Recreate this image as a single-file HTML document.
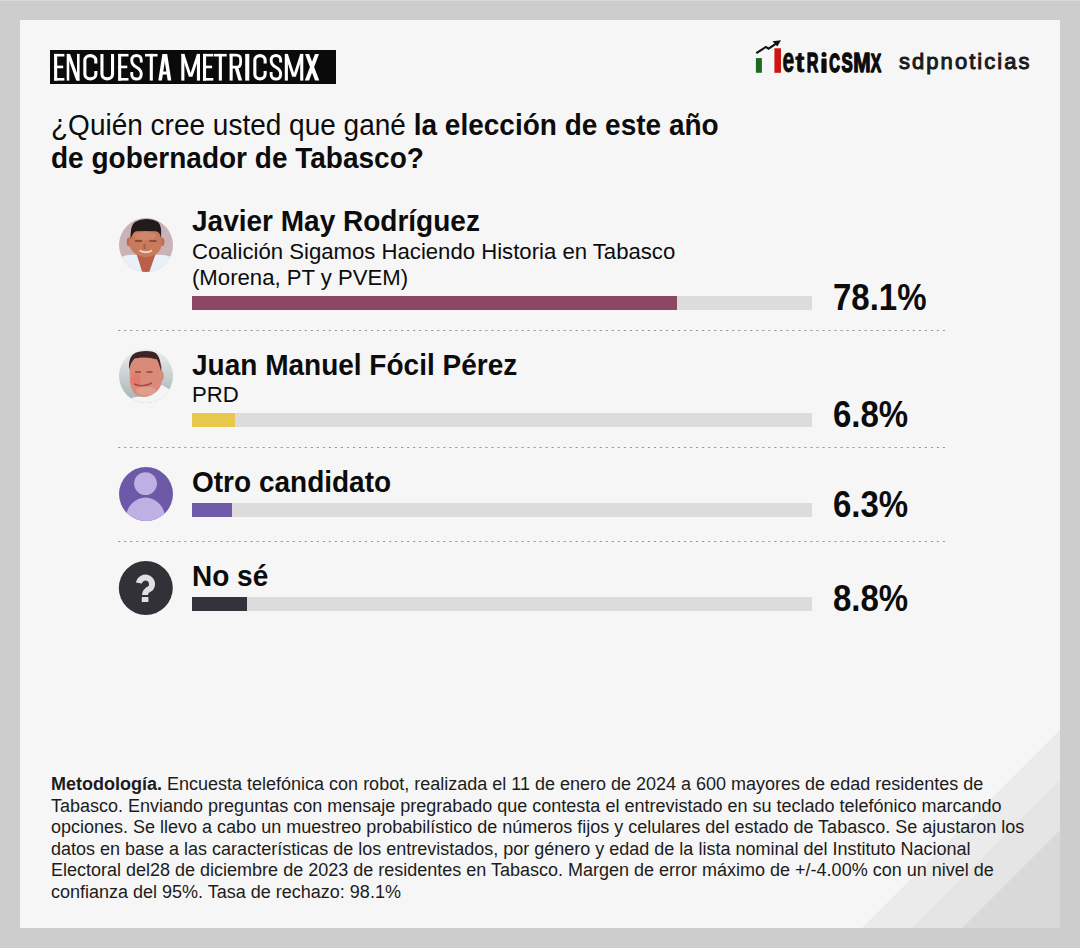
<!DOCTYPE html>
<html><head><meta charset="utf-8">
<style>
*{margin:0;padding:0;box-sizing:border-box}
html,body{width:1080px;height:948px;overflow:hidden;background:#cdcdcd;font-family:"Liberation Sans",sans-serif;color:#0c0c0c}
#card{position:absolute;left:20px;top:20px;width:1040px;height:908px;background:#f6f6f6;overflow:hidden}
.abs{position:absolute;white-space:nowrap}
#tag{position:absolute;left:30px;top:30px;width:286px;height:34px;background:#0a0a0a}
.q{position:absolute;left:31px;font-size:28px;line-height:28px;white-space:nowrap;transform-origin:0 23.7px;transform:scaleY(1.04)}
.name{font-weight:bold;font-size:28px;line-height:28px;transform-origin:0 23.7px;transform:scaleY(1.05)}
.sub{font-size:22.15px;line-height:22px}
.track{position:absolute;left:172px;width:620px;height:14px;background:#dcdcdc}
.fill{position:absolute;left:0;top:0;height:14px}
.pct{position:absolute;left:813px;font-weight:bold;font-size:33px;line-height:33px;white-space:nowrap;transform-origin:0 28px;transform:scaleY(1.13)}
#meth{position:absolute;left:31px;top:754px;font-size:18px;line-height:21.6px;color:#1c1c1c;white-space:nowrap}
#sdp{position:absolute;left:879px;top:31px;font-size:22px;line-height:22px;font-weight:normal;-webkit-text-stroke:1px #1a1a1a;letter-spacing:2.05px;color:#1a1a1a;white-space:nowrap}
#stripes{position:absolute;left:0;top:0}
</style></head><body>
<div style="position:absolute;left:0;top:0;width:1080px;height:1px;background:#d9d9d9"></div>
<div id="card">
  <svg id="stripes" width="1040" height="908" viewBox="0 0 1040 908">
    <polygon points="1040,710 1040,908 842,908" fill="#ebebeb"/>
    <polygon points="1040,760 1040,908 892,908" fill="#e5e5e5"/>
    <polygon points="1040,810 1040,908 942,908" fill="#d9d9d9"/>
  </svg>

  <div id="tag"></div>
  <svg class="abs" style="left:-20px;top:-20px" width="400" height="120" viewBox="0 0 400 120"><g fill="#fff" stroke="#fff" stroke-width="0"><g transform="translate(54.1,53.9)"><rect x="0" y="0" width="3.1" height="26.7"/><rect x="0" y="0" width="10.300000000000004" height="2.6"/><rect x="0" y="11.75" width="9.10" height="2.6"/><rect x="0" y="24.10" width="10.300000000000004" height="2.6"/></g>
<g transform="translate(66.7,53.9)"><rect x="0" y="0" width="2.6" height="26.7"/><rect x="10.30" y="0" width="2.6" height="26.7"/><polygon points="0,0 3.40,0 12.899999999999991,26.7 9.50,26.7"/></g>
<g transform="translate(83.3,53.9)"><path d="M12.55 9.5 V6.3 A5.50 4.6 0 0 0 1.55 6.3 V20.4 A5.50 4.6 0 0 0 12.55 20.4 V17" fill="none" stroke-width="3.1"/></g>
<g transform="translate(100.4,53.9)"><path d="M1.55 0 V20.4 A5.30 4.6 0 0 0 12.15 20.4 V0" fill="none" stroke-width="3.1"/></g>
<g transform="translate(118.1,53.9)"><rect x="0" y="0" width="3.1" height="26.7"/><rect x="0" y="0" width="10.400000000000006" height="2.6"/><rect x="0" y="11.75" width="9.20" height="2.6"/><rect x="0" y="24.10" width="10.400000000000006" height="2.6"/></g>
<g transform="translate(130.2,53.9)"><path d="M11.05 8.5 V6.2 C11.05 3 9.10 1.55 6.30 1.55 C3.5 1.55 1.55 3 1.55 6.5 C1.55 10.5 3.5 11.8 6.30 13.3 C9.10 14.8 11.05 16.3 11.05 20 C11.05 23.7 9.10 25.15 6.30 25.15 C3.5 25.15 1.55 23.7 1.55 20.5 V18" fill="none" stroke-width="2.9"/></g>
<g transform="translate(145.0,53.9)"><rect x="0" y="0" width="12.599999999999994" height="2.6"/><rect x="4.75" y="0" width="3.1" height="26.7"/></g>
<g transform="translate(158.3,53.9)"><polygon points="0,26.7 4.10,0 7.70,0 3.6,26.7"/><polygon points="5.30,0 8.90,0 13.0,26.7 9.40,26.7"/><rect x="2.5" y="17.62" width="8.00" height="3"/></g>
<g transform="translate(181.3,53.9)"><rect x="0" y="0" width="3.1" height="26.7"/><rect x="15.60" y="0" width="3.1" height="26.7"/><polygon points="0,0 3.10,0 9.35,19.22 15.60,0 18.69999999999999,0 11.15,22.96 7.55,22.96"/></g>
<g transform="translate(203.0,53.9)"><rect x="0" y="0" width="3.1" height="26.7"/><rect x="0" y="0" width="10.300000000000011" height="2.6"/><rect x="0" y="11.75" width="9.10" height="2.6"/><rect x="0" y="24.10" width="10.300000000000011" height="2.6"/></g>
<g transform="translate(214.0,53.9)"><rect x="0" y="0" width="12.699999999999989" height="2.6"/><rect x="4.80" y="0" width="3.1" height="26.7"/></g>
<g transform="translate(229.6,53.9)"><rect x="0" y="0" width="3.1" height="26.7"/><path d="M0 1.3 H6.60 Q11.05 1.3 11.05 6 V8.5 Q11.05 13.3 6.60 13.3 H1" fill="none" stroke-width="2.8000000000000003"/><polygon points="4.80,13 8.50,13 12.599999999999994,26.7 8.80,26.7"/></g>
<g transform="translate(245.2,53.9)"><rect x="0" y="0" width="4.100000000000023" height="26.7"/></g>
<g transform="translate(253.3,53.9)"><path d="M11.85 9.5 V6.3 A5.15 4.6 0 0 0 1.55 6.3 V20.4 A5.15 4.6 0 0 0 11.85 20.4 V17" fill="none" stroke-width="3.1"/></g>
<g transform="translate(269.6,53.9)"><path d="M11.05 8.5 V6.2 C11.05 3 9.10 1.55 6.30 1.55 C3.5 1.55 1.55 3 1.55 6.5 C1.55 10.5 3.5 11.8 6.30 13.3 C9.10 14.8 11.05 16.3 11.05 20 C11.05 23.7 9.10 25.15 6.30 25.15 C3.5 25.15 1.55 23.7 1.55 20.5 V18" fill="none" stroke-width="2.9"/></g>
<g transform="translate(284.8,53.9)"><rect x="0" y="0" width="3.1" height="26.7"/><rect x="15.40" y="0" width="3.1" height="26.7"/><polygon points="0,0 3.10,0 9.25,19.22 15.40,0 18.5,0 11.05,22.96 7.45,22.96"/></g>
<g transform="translate(304.8,53.9)"><polygon points="0.3,0 4.3,0 14.5,26.7 10.20,26.7"/><polygon points="10.20,0 14.20,0 4.3,26.7 0,26.7"/></g></g>
</svg>

  <!-- metricsmx logo -->
  <svg class="abs" style="left:730px;top:15px" width="170" height="45" viewBox="750 35 170 45">
    <rect x="755.9" y="58.1" width="6" height="14.7" fill="#1b6b22"/>
    <rect x="774.4" y="48.3" width="6.6" height="24.5" fill="#d01414"/>
    <polyline points="756.3,53.1 765.9,46.9 768.5,48.7 776.5,43.3" fill="none" stroke="#111" stroke-width="2.1"/>
    <polygon points="781,40.2 772.5,41.2 777.3,46.5" fill="#111"/>
    <g font-family="Liberation Sans" font-weight="bold" font-size="100" fill="#0c0c0c" stroke="#0c0c0c" stroke-linejoin="round">
<text stroke-width="2.5" transform="translate(782.44,72.32) scale(0.2107,0.3491)">e</text>
<text stroke-width="3" transform="translate(795.57,72.34) scale(0.2629,0.2764)">t</text>
<text stroke-width="5" transform="translate(806.72,72.31) scale(0.1621,0.2778)">R</text>
<text stroke-width="7" transform="translate(829.21,72.31) scale(0.1478,0.2661)">C</text>
<text stroke-width="6" transform="translate(841.52,72.43) scale(0.1684,0.2695)">S</text>
<text stroke-width="5" transform="translate(853.13,72.43) scale(0.2082,0.2683)">M</text>
<text stroke-width="6" transform="translate(870.73,72.21) scale(0.1565,0.2634)">X</text>
<rect x="821.4" y="58.6" width="5.2" height="14.4" rx="1" stroke="none"/><circle cx="824" cy="54.5" r="2.5" stroke="none"/>
</g>
  </svg>
  <div id="sdp">sdpnoticias</div>

  <div class="q" style="top:91.7px">¿Quién cree usted que gané <b>la elección de este año</b></div>
  <div class="q" style="top:124.7px"><b>de gobernador de Tabasco?</b></div>

  <!-- avatars -->
  <svg class="abs" style="left:98px;top:197px" width="56" height="56" viewBox="0 0 56 56">
    <defs><clipPath id="c1"><circle cx="28" cy="28" r="27"/></clipPath></defs>
    <circle cx="28" cy="28" r="27" fill="#c9b3b8"/>
    <g clip-path="url(#c1)">
      <path d="M-2 58 V42 Q8 37 19 38 L28 56 L37.5 38 Q48 37 58 42 V58 Z" fill="#e9f1f8"/>
      <path d="M18.6 37 L37.5 37 L31 56 L24.5 56 Z" fill="#b95f47"/>
      <ellipse cx="11" cy="25" rx="2.4" ry="4.2" fill="#bf6e52"/>
      <ellipse cx="44" cy="25" rx="2.4" ry="4.2" fill="#bf6e52"/>
      <path d="M11.5 22 Q11.5 12 27.5 12 Q43.5 12 43.5 22 L43.5 28 Q42.5 38.5 28 40.5 Q13.5 38.5 11.5 28 Z" fill="#c87a5c"/>
      <ellipse cx="27.5" cy="19" rx="11" ry="4" fill="#d38d6e" opacity=".7"/>
      <path d="M17 24 h7 M31.5 24 h7" stroke="#7a3c2c" stroke-width="1.5"/>
      <path d="M26.5 27 v5" stroke="#a85840" stroke-width="2"/>
      <path d="M21.5 33.5 Q28 37 34 33.5" stroke="#eed8cc" stroke-width="1.9" fill="none"/>
      <path d="M12.7 22 Q12 8 17 5 Q22 2 28 2 Q35 2 40 5 Q44 8 43 21 Q42 15 38 14.3 Q28 13.5 18 14.3 Q15 15 12.7 22 Z" fill="#231b1b"/>
    </g>
  </svg>
  <svg class="abs" style="left:98px;top:328px" width="56" height="56" viewBox="0 0 56 56">
    <defs><clipPath id="c2"><circle cx="28" cy="28" r="27"/></clipPath>
      <linearGradient id="bg2" x1="0" y1="0" x2="0" y2="1"><stop offset="0" stop-color="#eceeee"/><stop offset="0.5" stop-color="#c8d0d1"/><stop offset="1" stop-color="#a3b0b3"/></linearGradient></defs>
    <circle cx="28" cy="28" r="27" fill="url(#bg2)"/>
    <g clip-path="url(#c2)">
      <path d="M4 58 Q8 50 18 49 L30 48 Q38 42 40 36 Q48 38 54 44 L58 58 Z" fill="#f5f5f5"/>
      <ellipse cx="43.5" cy="28" rx="2.2" ry="5" fill="#d58a78"/>
      <path d="M11.7 20 Q12 9 27 9 Q43 9 44 20 L44 32 Q43 44 30 48.5 Q22 50 17 46 Q11.5 40 11.7 30 Z" fill="#d98a78"/>
      <ellipse cx="18" cy="31" rx="5" ry="6" fill="#e07565" opacity="0.7"/>
      <ellipse cx="28" cy="43" rx="10" ry="4.5" fill="#e2ab9c" opacity="0.6"/>
      <path d="M17 24 h6 M28.5 24 h6" stroke="#8a4a3e" stroke-width="1.4"/>
      <path d="M16 36 Q25 40 34 35" stroke="#b04a40" stroke-width="1.5" fill="none"/>
      <path d="M11 22 Q10 6 20 4 Q27 2.5 34 3.5 Q43 5 43 23 Q41 15 39 11.5 Q28 8 17 10.5 Q13 13 11 22 Z" fill="#3a2522"/>
    </g>
  </svg>
  <svg class="abs" style="left:98px;top:446px" width="56" height="56" viewBox="0 0 56 56">
    <defs><clipPath id="c3"><circle cx="28" cy="28" r="27"/></clipPath></defs>
    <circle cx="28" cy="28" r="27" fill="#6d59a8"/>
    <g clip-path="url(#c3)">
      <circle cx="27.5" cy="17.6" r="11.4" fill="#bdb1e4"/>
      <ellipse cx="27.5" cy="54" rx="20" ry="22.5" fill="#bdb1e4"/>
    </g>
  </svg>
  <svg class="abs" style="left:98px;top:540px" width="56" height="56" viewBox="0 0 56 56">
    <circle cx="27.8" cy="28" r="27" fill="#333138"/>
    <path d="M20.95 23.05 A6.6 6.6 0 1 1 32.5 28.4 Q27 31 27 35" fill="none" stroke="#e2dfe2" stroke-width="6"/>
    <rect x="23.8" y="37" width="6.6" height="5" fill="#e2dfe2"/>
  </svg>

  <!-- dashed separators -->
  <svg class="abs" style="left:0;top:0" width="1040" height="560" viewBox="0 0 1040 560">
    <g stroke="#9a9a9a" stroke-width="1" stroke-dasharray="2.2 3.82">
      <line x1="98.1" y1="310.5" x2="925" y2="310.5"/>
      <line x1="98.1" y1="427.5" x2="925" y2="427.5"/>
      <line x1="98.1" y1="521.5" x2="925" y2="521.5"/>
    </g>
  </svg>

  <!-- row 1 -->
  <div class="abs name" style="left:172px;top:188px">Javier May Rodríguez</div>
  <div class="abs sub" style="left:172px;top:221px">Coalición Sigamos Haciendo Historia en Tabasco</div>
  <div class="abs sub" style="left:172px;top:247px">(Morena, PT y PVEM)</div>
  <div class="track" style="top:276px"><div class="fill" style="width:485px;background:#8c4862"></div></div>
  <div class="pct" style="top:262px">78.1%</div>

  <!-- row 2 -->
  <div class="abs name" style="left:172px;top:332px">Juan Manuel Fócil Pérez</div>
  <div class="abs sub" style="left:172px;top:364px">PRD</div>
  <div class="track" style="top:393px"><div class="fill" style="width:43px;background:#e8c84a"></div></div>
  <div class="pct" style="top:379px">6.8%</div>

  <!-- row 3 -->
  <div class="abs name" style="left:172px;top:449px">Otro candidato</div>
  <div class="track" style="top:483px"><div class="fill" style="width:40px;background:#6f5aa8"></div></div>
  <div class="pct" style="top:469px">6.3%</div>

  <!-- row 4 -->
  <div class="abs name" style="left:172px;top:543px">No sé</div>
  <div class="track" style="top:577px"><div class="fill" style="width:55px;background:#34323a"></div></div>
  <div class="pct" style="top:563px">8.8%</div>

  <div id="meth"><b>Metodología.</b> Encuesta telefónica con robot, realizada el 11 de enero de 2024 a 600 mayores de edad residentes de<br>Tabasco. Enviando preguntas con mensaje pregrabado que contesta el entrevistado en su teclado telefónico marcando<br>opciones. Se llevo a cabo un muestreo probabilístico de números fijos y celulares del estado de Tabasco. Se ajustaron los<br>datos en base a las características de los entrevistados, por género y edad de la lista nominal del Instituto Nacional<br>Electoral del28 de diciembre de 2023 de residentes en Tabasco. Margen de error máximo de +/-4.00% con un nivel de<br>confianza del 95%. Tasa de rechazo: 98.1%</div>
</div>
</body></html>
